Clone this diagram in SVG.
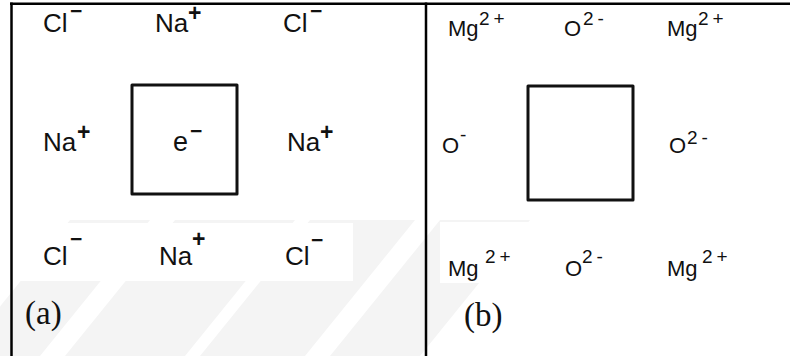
<svg xmlns="http://www.w3.org/2000/svg" width="790" height="356" viewBox="0 0 790 356">
  <style>
    .ion { font-family: "Liberation Sans", Arial, sans-serif; fill: #111; }
    .a { font-size: 26px; }
    .b { font-size: 22px; }
    .sup { font-size: 23px; font-weight: bold; }
    .supm { font-size: 21px; font-weight: bold; }
    .supb { font-size: 19px; letter-spacing: 4px; }
    .tag { font-family: "Liberation Serif", "Times New Roman", serif; font-size: 33px; fill: #111; }
    .frame { stroke: #000; stroke-width: 2.5; fill: none; }
    .cell { stroke: #111; stroke-width: 3; fill: none; stroke-linejoin: round; }
    .mark { fill: #f4f4f4; }
  </style>

  <rect width="790" height="356" fill="#fff"/>

  <!-- faint background stripes -->
  <g id="watermark">
    <polygon class="mark" points="-40,356 40,356 150,220 70,220"/>
    <polygon class="mark" points="65,356 185,356 295,220 175,220"/>
    <polygon class="mark" points="200,356 305,356 415,220 310,220"/>
    <polygon class="mark" points="330,356 420,356 530,220 440,220"/>
    <!-- white grounds behind the bottom rows of ions -->
    <rect x="13" y="223" width="340" height="58" fill="#fff"/>
    <rect x="440" y="222" width="300" height="61" fill="#fff"/>
  </g>

  <!-- frame lines -->
  <g id="frame">
    <line class="frame" x1="10" y1="3.7" x2="790" y2="3.7"/>
    <line class="frame" x1="11.5" y1="2.5" x2="11.5" y2="356"/>
    <line class="frame" x1="426" y1="2.5" x2="426" y2="356"/>
  </g>

  <!-- (a) NaCl lattice with trapped electron -->
  <g id="panel-a">
    <rect id="cell-a" class="cell" x="132" y="85" width="105" height="109"/>
    <g id="a-cl-1"><text class="ion a" x="43" y="32">Cl</text><text class="ion supm" x="70" y="17.5">−</text></g>
    <g id="a-na-1"><text class="ion a" x="155" y="32">Na</text><text class="ion sup" x="188" y="21">+</text></g>
    <g id="a-cl-2"><text class="ion a" x="283" y="32">Cl</text><text class="ion supm" x="310" y="18">−</text></g>
    <g id="a-na-2"><text class="ion a" x="43" y="151">Na</text><text class="ion sup" x="77" y="140">+</text></g>
    <g id="a-e"><text class="ion a" x="173" y="151" style="font-size:27px">e</text><text class="ion supm" x="190" y="138">−</text></g>
    <g id="a-na-3"><text class="ion a" x="287" y="151">Na</text><text class="ion sup" x="320" y="140">+</text></g>
    <g id="a-cl-3"><text class="ion a" x="43" y="265">Cl</text><text class="ion supm" x="70" y="246">−</text></g>
    <g id="a-na-4"><text class="ion a" x="159" y="265">Na</text><text class="ion sup" x="192" y="247">+</text></g>
    <g id="a-cl-4"><text class="ion a" x="285" y="265">Cl</text><text class="ion supm" x="311" y="246.5">−</text></g>
    <text class="tag" x="25" y="324">(a)</text>
  </g>

  <!-- (b) MgO lattice with vacancy -->
  <g id="panel-b">
    <rect id="cell-b" class="cell" x="528" y="86" width="105" height="114"/>
    <g id="b-mg-1"><text class="ion b" x="448" y="36">Mg</text><text class="ion supb" x="479" y="25">2+</text></g>
    <g id="b-o-1"><text class="ion b" x="564" y="36">O</text><text class="ion supb" x="583" y="25">2-</text></g>
    <g id="b-mg-2"><text class="ion b" x="667" y="36">Mg</text><text class="ion supb" x="698" y="25">2+</text></g>
    <g id="b-o-2"><text class="ion b" x="442" y="153">O</text><text class="ion supb" x="460" y="141">-</text></g>
    <g id="b-o-3"><text class="ion b" x="669" y="153">O</text><text class="ion supb" x="687" y="144">2-</text></g>
    <g id="b-mg-3"><text class="ion b" x="448" y="276">Mg</text><text class="ion supb" x="485" y="263">2+</text></g>
    <g id="b-o-4"><text class="ion b" x="565" y="276">O</text><text class="ion supb" x="582" y="263">2-</text></g>
    <g id="b-mg-4"><text class="ion b" x="667" y="276">Mg</text><text class="ion supb" x="702" y="263">2+</text></g>
    <text class="tag" x="464" y="326">(b)</text>
  </g>
</svg>
